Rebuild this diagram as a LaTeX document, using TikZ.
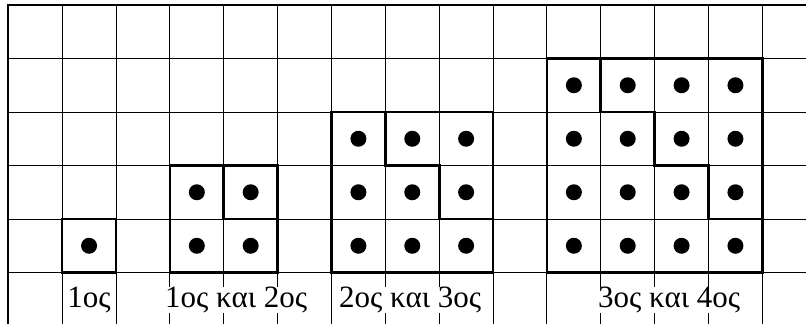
\documentclass[tikz,border=0pt]{standalone}
\usepackage{fontspec}
\setmainfont{Liberation Serif}
\begin{document}
\begin{tikzpicture}[x=53.86pt,y=-53.5pt,
  gridline/.style={line width=0.9pt},
  frameline/.style={line width=2.2pt},
  boxline/.style={line width=2.6pt, line cap=rect, line join=miter},
  dot/.style={circle, fill=black, minimum size=16pt, inner sep=0pt},
  lbl/.style={font=\fontsize{31}{31}\selectfont, fill=white, inner sep=0pt, anchor=base}]
\useasboundingbox (-0.154,-0.0935) rectangle (14.81,5.963);
% grid
\foreach \i in {1,...,14} \draw[gridline] (\i,0) -- (\i,5.963);
\foreach \j in {1,...,5} \draw[gridline] (0,\j) -- (14.81,\j);
\draw[frameline] (0,5.963) -- (0,0) -- (14.81,0);
% labels
\node[lbl] (l1) at (1.50,5.645) {1ος};
\node[lbl] (l2) at (4.23,5.645) {1ος και 2ος};
\node[lbl] (l3) at (7.46,5.645) {2ος και 3ος};
\node[lbl] (l4) at (12.27,5.645) {3ος και 4ος};
% figure 1
\draw[boxline] (1,4) rectangle (2,5);
% figure 2
\draw[boxline] (3,3) rectangle (5,5);
\draw[boxline] (4,3) -- (4,4) -- (5,4);
% figure 3
\draw[boxline] (6,2) rectangle (9,5);
\draw[boxline] (7,2) -- (7,3) -- (8,3) -- (8,4) -- (9,4);
% figure 4
\draw[boxline] (10,1) rectangle (14,5);
\draw[boxline] (11,1) -- (11,2) -- (12,2) -- (12,3) -- (13,3) -- (13,4) -- (14,4);
% dots
\node[dot] (a11) at (1.5,4.5) {};
\foreach \i in {3,4} \foreach \j in {3,4} \node[dot] (b\i\j) at (\i+0.5,\j+0.5) {};
\foreach \i in {6,7,8} \foreach \j in {2,3,4} \node[dot] (c\i\j) at (\i+0.5,\j+0.5) {};
\foreach \i in {10,11,12,13} \foreach \j in {1,2,3,4} \node[dot] (d\i\j) at (\i+0.5,\j+0.5) {};
\end{tikzpicture}
\end{document}
